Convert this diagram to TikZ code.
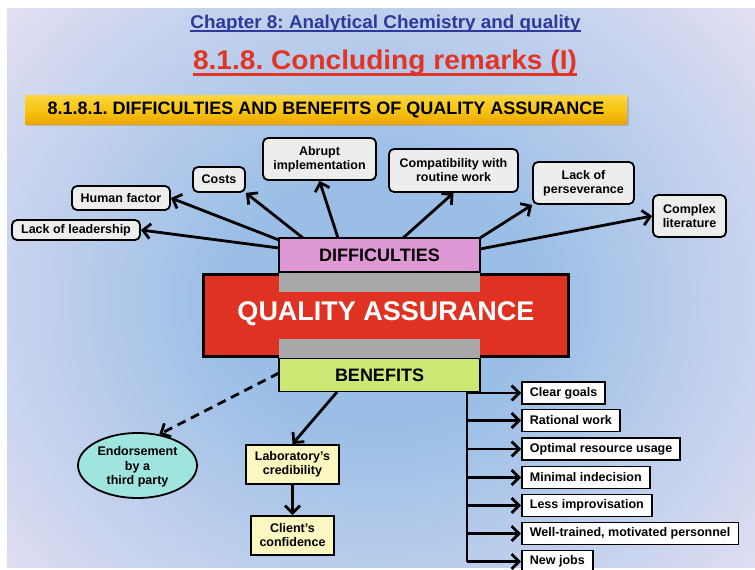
\documentclass[tikz,border=0pt]{standalone}
\usepackage{fontspec}
\setmainfont{Liberation Sans}
\newfontfamily\chapfont[FakeStretch=1.02]{Liberation Sans}
\newfontfamily\headfont[FakeStretch=1.04]{Liberation Sans}
\usetikzlibrary{arrows.meta,shapes.geometric,shadows}
\frenchspacing
\definecolor{bgin}{RGB}{154,190,230}
\definecolor{bgout}{RGB}{240,230,245}
\definecolor{titleblue}{RGB}{45,58,155}
\definecolor{titlered}{RGB}{226,52,36}
\definecolor{boxgray}{RGB}{236,238,238}
\definecolor{pinkc}{RGB}{222,152,214}
\definecolor{redc}{RGB}{224,50,34}
\definecolor{grayc}{RGB}{168,168,168}
\definecolor{greenc}{RGB}{204,232,116}
\definecolor{tealc}{RGB}{160,228,222}
\definecolor{yellowc}{RGB}{250,248,192}
\definecolor{bantop}{RGB}{250,214,64}
\definecolor{banmid}{RGB}{248,198,18}
\definecolor{banbot}{RGB}{236,166,0}
\begin{document}
\begin{tikzpicture}[x=1pt,y=-1pt,
  txt/.style={font=\bfseries\fontsize{12.5}{14}\selectfont},
  dbox/.style={txt, draw, line width=1.8pt, rounded corners=5pt, fill=boxgray, align=center, inner sep=0pt},
  mainbox/.style={draw, line width=1.8pt, inner sep=0pt, font=\bfseries\fontsize{18}{20}\selectfont},
  ybox/.style={txt, draw, line width=2pt, fill=yellowc, align=center, inner sep=0pt},
  rbox/.style={txt, draw, line width=1.8pt, fill=white, anchor=west, minimum height=22, inner xsep=8pt, inner ysep=0pt},
  arr/.style={line width=2.8pt, -{Straight Barb[length=7.5pt,width=15pt]}},
  plain/.style={line width=2.8pt}
]
\useasboundingbox (0,0) rectangle (755,570);
\begin{scope}
\clip (7,8) rectangle (755,567);
\fill[bgout] (7,8) rectangle (755,567);
\foreach \i in {0,...,40}{
  \pgfmathsetmacro\p{\i*2.5}
  \fill[bgin!\p!bgout] (380,300) ellipse [x radius={560-\i*10}, y radius={520-\i*9.75}];
}
\end{scope}

% titles
\node[font=\chapfont\bfseries\fontsize{18.5}{22}\selectfont, text=titleblue, anchor=base, inner sep=0pt] (t1) at (385.5,28) {Chapter 8: Analytical Chemistry and quality};
\draw[titleblue, line width=1.6pt] ([yshift=-3pt]t1.base west) -- ([yshift=-3pt]t1.base east);
\node[font=\headfont\bfseries\fontsize{27}{30}\selectfont, text=titlered, anchor=base, inner sep=0pt] (t2) at (385,69) {8.1.8. Concluding remarks (I)};
\draw[titlered, line width=2.4pt] ([yshift=-5.5pt]t2.base west) -- ([yshift=-5.5pt]t2.base east);

% banner
\node[top color=bantop, bottom color=banbot, middle color=banmid, minimum width=602, minimum height=29, inner sep=0pt,
  drop shadow={shadow xshift=2pt, shadow yshift=-2pt, opacity=0.35},
  font=\bfseries\fontsize{18}{20}\selectfont] (ban) at (326,109.5) {8.1.8.1. DIFFICULTIES AND BENEFITS OF QUALITY ASSURANCE};

% difficulty boxes
\node[dbox, minimum width=128, minimum height=20] (lead) at (76,230) {Lack of leadership};
\node[dbox, minimum width=98, minimum height=24] (human) at (121,198) {Human factor};
\node[dbox, minimum width=52, minimum height=25] (costs) at (219,179.5) {Costs};
\node[dbox, minimum width=113, minimum height=42] (abrupt) at (319.5,159) {Abrupt\\implementation};
\node[dbox, minimum width=129, minimum height=43] (compat) at (453.5,170.5) {Compatibility with\\routine work};
\node[dbox, minimum width=101, minimum height=42] (persev) at (583.5,183) {Lack of\\perseverance};
\node[dbox, minimum width=73, minimum height=42] (complex) at (689.5,216) {Complex\\literature};

% central block
\node[mainbox, fill=pinkc, minimum width=201, minimum height=34] (diff) at (379.5,255) {DIFFICULTIES};
\node[draw, line width=3.5pt, fill=redc, minimum width=365, minimum height=82, inner sep=0pt] (qa) at (386,315.5) {};
\node[fill=grayc, minimum width=201, minimum height=19, inner sep=0pt] (g1) at (379.5,282.5) {};
\node[fill=grayc, minimum width=201, minimum height=19, inner sep=0pt] (g2) at (379.5,348.5) {};
\node[text=white, font=\bfseries\fontsize{27}{30}\selectfont, inner sep=0pt] (qat) at (386,314) {QUALITY ASSURANCE};
\node[mainbox, fill=greenc, minimum width=201, minimum height=33] (ben) at (379.5,375) {BENEFITS};

% difficulty arrows
\coordinate (s1) at (279,248);
\coordinate (s2) at (279,240);
\coordinate (s3) at (303,238);
\coordinate (s4) at (338,238);
\coordinate (s5) at (403,238);
\coordinate (s6) at (480,238);
\coordinate (s7) at (480,249);
\draw[arr] (s1) -- (lead.east);
\draw[arr] (s2) -- (human.east);
\draw[arr] (s3) -- (costs.south east);
\draw[arr] (s4) -- (abrupt.south);
\draw[arr] (s5) -- (compat.south);
\draw[arr] (s6) -- (persev.south west);
\draw[arr] (s7) -- (complex.west);

% benefits, left part
\node[txt, draw, line width=1.8pt, fill=tealc, ellipse, minimum width=119, minimum height=65, inner sep=0pt, align=center, text depth=0pt] (endo) at (137.5,465.5) {Endorsement\\[0.5pt]by a\\[0.5pt]third party};
\node[ybox, minimum width=93, minimum height=39] (lab) at (292.5,464.5) {Laboratory’s\\credibility};
\node[ybox, minimum width=83, minimum height=39] (client) at (292.5,535.5) {Client’s\\confidence};
\coordinate (bd) at (279,373);
\coordinate (bl) at (337,392);
\draw[arr, dash pattern=on 9pt off 6pt] (bd) -- (endo.55);
\draw[arr] (bl) -- (lab.north);
\draw[arr] (lab.south) -- (client.north);

% benefits, right list
\node[rbox] (b1) at (521,393) {Clear goals};
\node[rbox] (b2) at (521,420.5) {Rational work};
\node[rbox] (b3) at (521,449) {Optimal resource usage};
\node[rbox] (b4) at (521,477.5) {Minimal indecision};
\node[rbox] (b5) at (521,505.5) {Less improvisation};
\node[rbox] (b6) at (521,533.5) {Well-trained, motivated personnel};
\node[rbox] (b7) at (521,561.5) {New jobs};
\coordinate (sp) at (467,391);
\draw[plain] (sp) -- (sp |- b7.west);
\foreach \b in {b1,b2,b3,b4,b5,b6,b7}{
  \draw[arr] (sp |- \b.west) -- (\b.west);
}
\end{tikzpicture}
\end{document}
